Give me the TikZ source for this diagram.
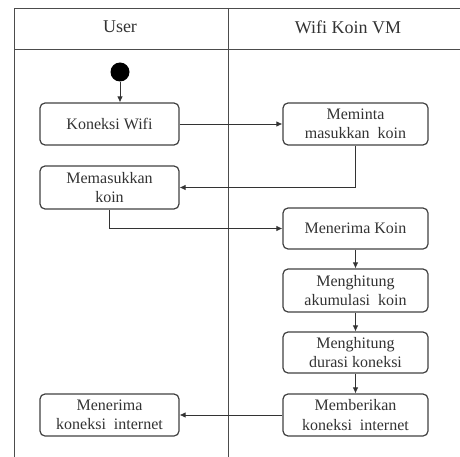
\documentclass[tikz,border=0pt]{standalone}
\usepackage{fontspec}
\setmainfont{Liberation Serif}
\usetikzlibrary{arrows.meta}
\begin{document}
\begin{tikzpicture}[x=1pt,y=-1pt,
  act/.style={draw=black!75, line width=1.2pt, rounded corners=5pt,
    align=center, text=black!80, inner sep=0pt,
    font=\fontsize{16}{19.5}\selectfont},
  lane/.style={draw=black!70, line width=0.9pt},
  flow/.style={draw=black!80, line width=0.8pt, -{Latex[length=6pt,width=5.5pt]}},
  head/.style={text=black!80, font=\fontsize{18}{20}\selectfont}]
\useasboundingbox (0,0) rectangle (460,457);
% swimlane frame
\draw[lane] (14,457) -- (14,8) -- (460,8);
\draw[lane] (14,49) -- (460,49);
\draw[lane] (228,8) -- (228,457);
\node[head] (hu) at (120,27) {User};
\node[head] (hw) at (348,27) {Wifi Koin VM};
% start
\node[circle, fill=black, minimum size=19pt, inner sep=0pt] (start) at (120,72) {};
% activities
\node[act, minimum width=139pt, minimum height=42pt] (kw) at (109.5,124) {Koneksi Wifi};
\node[act, minimum width=145pt, minimum height=42pt] (mm) at (355.5,124) {Meminta\\masukkan\ \ koin};
\node[act, minimum width=139pt, minimum height=43pt] (mk) at (109.5,187.5) {Memasukkan\\koin};
\node[act, minimum width=145pt, minimum height=41pt] (mko) at (355.5,228.5) {Menerima Koin};
\node[act, minimum width=145pt, minimum height=43pt] (ma) at (355.5,290.5) {Menghitung\\akumulasi\ \ koin};
\node[act, minimum width=145pt, minimum height=41pt] (md) at (355.5,352.5) {Menghitung\\durasi koneksi};
\node[act, minimum width=145pt, minimum height=42pt] (mb) at (355.5,415) {Memberikan\\koneksi\ \ internet};
\node[act, minimum width=139pt, minimum height=42pt] (mki) at (109.5,415) {Menerima\\koneksi\ \ internet};
% flows
\draw[flow] (start) -- (start |- kw.north);
\draw[flow] (kw) -- (mm);
\draw[flow] (mm.south) |- (mk.east);
\draw[flow] (mk.south) |- (mko.west);
\draw[flow] (mko) -- (ma);
\draw[flow] (ma) -- (md);
\draw[flow] (md) -- (mb);
\draw[flow] (mb) -- (mki);
\end{tikzpicture}
\end{document}
